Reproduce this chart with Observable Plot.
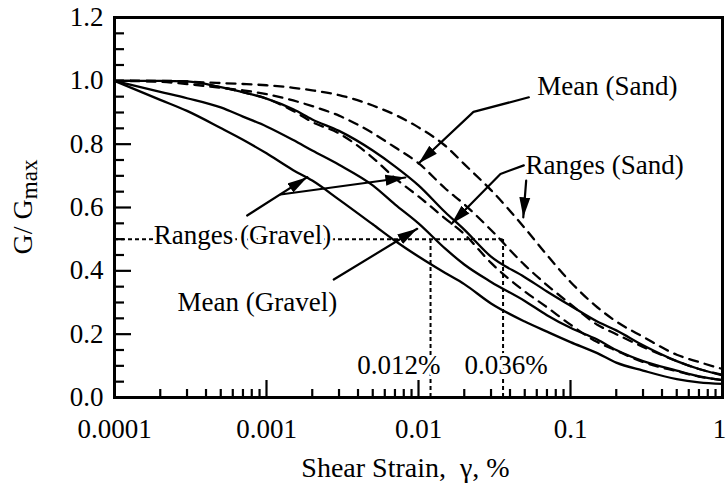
<!DOCTYPE html>
<html><head><meta charset="utf-8">
<script src="https://cdn.jsdelivr.net/npm/d3@7"></script>
<script src="https://cdn.jsdelivr.net/npm/@observablehq/plot@0.6"></script>
<style>html,body{margin:0;padding:0;background:#fff;overflow:hidden}</style>
</head><body><div id="chart"></div>
<script>
// ---- data ----
const strain = [0.0001, 0.0002, 0.0003, 0.0005, 0.0007, 0.001, 0.0015, 0.002, 0.003, 0.005, 0.007, 0.01, 0.015, 0.02, 0.03, 0.05, 0.07, 0.1, 0.15, 0.2, 0.3, 0.5, 0.7, 1];
const gravelLower = [1.0, 0.94, 0.905, 0.851, 0.814, 0.771, 0.718, 0.685, 0.625, 0.547, 0.495, 0.445, 0.393, 0.358, 0.297, 0.24, 0.208, 0.175, 0.14, 0.11, 0.085, 0.058, 0.048, 0.043];
const gravelMean  = [1.0, 0.965, 0.945, 0.916, 0.887, 0.856, 0.813, 0.78, 0.735, 0.67, 0.61, 0.55, 0.47, 0.42, 0.365, 0.305, 0.26, 0.22, 0.183, 0.15, 0.115, 0.085, 0.067, 0.055];
const gravelUpper = [1.0, 1.0, 0.998, 0.98, 0.964, 0.944, 0.91, 0.878, 0.842, 0.78, 0.73, 0.67, 0.585, 0.53, 0.445, 0.38, 0.335, 0.29, 0.24, 0.212, 0.165, 0.115, 0.09, 0.07];
const sandLower   = [1.0, 1.0, 0.998, 0.98, 0.964, 0.944, 0.905, 0.87, 0.834, 0.757, 0.693, 0.635, 0.565, 0.516, 0.425, 0.335, 0.285, 0.23, 0.175, 0.148, 0.112, 0.083, 0.066, 0.055];
const sandMean    = [1.0, 0.997, 0.99, 0.978, 0.97, 0.958, 0.938, 0.92, 0.89, 0.835, 0.79, 0.74, 0.66, 0.61, 0.529, 0.418, 0.355, 0.295, 0.23, 0.2, 0.16, 0.115, 0.09, 0.072];
const sandUpper   = [1.0, 0.999, 0.997, 0.993, 0.99, 0.986, 0.978, 0.97, 0.955, 0.922, 0.893, 0.853, 0.795, 0.737, 0.655, 0.535, 0.45, 0.365, 0.285, 0.24, 0.192, 0.135, 0.112, 0.09];

const xMajor = [0.0001, 0.001, 0.01, 0.1, 1];
const xTickLabels = ["0.0001", "0.001", "0.01", "0.1", "1"];
const yMajor = [0, 0.2, 0.4, 0.6, 0.8, 1.0, 1.2];
const yTickLabels = ["0.0", "0.2", "0.4", "0.6", "0.8", "1.0", "1.2"];
const yMinor = [0.05, 0.1, 0.15, 0.25, 0.3, 0.35, 0.45, 0.5, 0.55, 0.65, 0.7, 0.75, 0.85, 0.9, 0.95, 1.05, 1.1, 1.15];
const xMinor = [];
for (const d of [0.0001, 0.001, 0.01, 0.1]) for (let k = 2; k <= 9; k++) xMinor.push(+(d * k).toPrecision(3));

const refLevel = [0.5];
const refStrains = [0.012, 0.036];
const refLabels = ["0.012%", "0.036%"];
const refLabelX = [0.01396, 0.0201];
const refLabelY = [0.103, 0.103];

const annoLabels = ["Mean (Sand)", "Ranges (Sand)", "Ranges (Gravel)", "Mean (Gravel)"];
const annoX = [0.0604, 0.0506, 0.000181, 0.00026];
const annoY = [0.981, 0.7345, 0.5125, 0.302];

const arrows = [
  {id: "meanSand",    x: [0.0532, 0.0230, 0.0100],   y: [0.948, 0.902, 0.739]},
  {id: "rangeSandA",  x: [0.0493, 0.0346, 0.01648],  y: [0.733, 0.706, 0.5485]},
  {id: "rangeSandB",  x: [0.0511, 0.0489],           y: [0.685, 0.569]},
  {id: "rangeGravA",  x: [0.000746, 0.001854],       y: [0.5747, 0.6957]},
  {id: "rangeGravB",  x: [0.001236, 0.0082],         y: [0.641, 0.6947]},
  {id: "meanGravel",  x: [0.00277, 0.0098],          y: [0.3726, 0.5327]}
];

const xLabel = "Shear Strain,\u00a0 \u03b3, %";
const yLabelMain = "G/ G";
const yLabelSub = "max";

// ---- build tables ----
const series = (vals) => strain.map((s, i) => ({strain: s, g: vals[i]}));
const arrowRows = arrows.flatMap(a => a.x.map((x, i) => ({id: a.id, x, y: a.y[i]})));
const annoRows = annoLabels.map((t, i) => ({t, x: annoX[i], y: annoY[i]}));
const refRows = refLabels.map((t, i) => ({t, x: refLabelX[i], y: refLabelY[i]}));

const FONT = "Liberation Serif";

function arrowHead(color, context) {
  const ns = "http://www.w3.org/2000/svg";
  const doc = (context && context.document) || document;
  const m = doc.createElementNS(ns, "marker");
  m.setAttribute("viewBox", "-20 -6 20 12");
  m.setAttribute("markerWidth", 20);
  m.setAttribute("markerHeight", 12);
  m.setAttribute("markerUnits", "userSpaceOnUse");
  m.setAttribute("refX", 0);
  m.setAttribute("refY", 0);
  m.setAttribute("orient", "auto");
  const p = doc.createElementNS(ns, "path");
  p.setAttribute("d", "M0,0L-20,-5.5L-20,5.5Z");
  p.setAttribute("fill", "black");
  p.setAttribute("stroke", "none");
  m.appendChild(p);
  return m;
}

const LW = 2.3;
const lineOpts = (dash) => ({x: "strain", y: "g", curve: "monotone-x", stroke: "black", strokeWidth: LW, strokeDasharray: dash});
const halo = {fill: "black", stroke: "white", strokeWidth: 6, paintOrder: "stroke", fontSize: 27};

const chart = Plot.plot({
  width: 727,
  height: 497,
  marginLeft: 114,
  marginRight: 5,
  marginTop: 17,
  marginBottom: 100,
  style: {fontFamily: FONT, fontSize: "27px", background: "white", color: "black"},
  x: {type: "log", domain: [0.0001, 1], axis: null},
  y: {domain: [0, 1.2], axis: null},
  marks: [
    // reference dotted lines
    Plot.ruleY(refLevel, {y: d => d, x1: 0.0001, x2: refStrains[1], stroke: "black", strokeWidth: 2, strokeDasharray: "4,3"}),
    Plot.ruleX(refStrains, {x: d => d, y1: 0, y2: refLevel[0], stroke: "black", strokeWidth: 2, strokeDasharray: "4,3"}),
    // curves
    Plot.line(series(gravelLower), lineOpts(null)),
    Plot.line(series(gravelMean), lineOpts(null)),
    Plot.line(series(gravelUpper), lineOpts(null)),
    Plot.line(series(sandLower), lineOpts("9,7")),
    Plot.line(series(sandMean), lineOpts("9,7")),
    Plot.line(series(sandUpper), lineOpts("9,7")),
    // arrows
    Plot.line(arrowRows, {x: "x", y: "y", z: "id", stroke: "black", strokeWidth: 2.2, markerEnd: arrowHead}),
    // annotations
    Plot.text(annoRows, {x: "x", y: "y", text: "t", textAnchor: "start", ...halo}),
    Plot.text(refRows.slice(0, 1), {x: "x", y: "y", text: "t", textAnchor: "end", ...halo}),
    Plot.text(refRows.slice(1), {x: "x", y: "y", text: "t", textAnchor: "start", ...halo}),
    // inside ticks
    Plot.ruleX(xMajor, {x: d => d, insetTop: 363, stroke: "black", strokeWidth: 2.2}),
    Plot.ruleX(xMinor, {x: d => d, insetTop: 372, stroke: "black", strokeWidth: 2.2}),
    Plot.ruleY(yMajor, {y: d => d, insetRight: 591, stroke: "black", strokeWidth: 2.2}),
    Plot.ruleY(yMinor, {y: d => d, insetRight: 598, stroke: "black", strokeWidth: 2.2}),
    Plot.frame({stroke: "black", strokeWidth: 3}),
    // tick labels
    Plot.axisX(xMajor.slice(0, 4), {anchor: "bottom", tickSize: 0, tickPadding: 21, tickFormat: d => xTickLabels[xMajor.indexOf(d)], label: null, fontSize: 27}),
    Plot.axisX(xMajor.slice(4), {anchor: "bottom", tickSize: 0, tickPadding: 21, dx: -3, tickFormat: d => xTickLabels[xMajor.indexOf(d)], label: null, fontSize: 27}),
    Plot.axisY(yMajor, {anchor: "left", tickSize: 0, tickPadding: 11, tickFormat: d => yTickLabels[yMajor.indexOf(d)], label: null, fontSize: 27}),
    // x axis title
    Plot.text([xLabel], {frameAnchor: "bottom", dx: -13, dy: 79, fontSize: 28, fill: "black"})
  ]
});
document.getElementById("chart").appendChild(chart);

const yl = d3.select(chart).append("text")
  .attr("transform", "translate(32,207) rotate(-90)")
  .attr("text-anchor", "middle")
  .attr("font-family", FONT)
  .attr("font-size", 28)
  .attr("fill", "black");
yl.append("tspan").text(yLabelMain);
yl.append("tspan").attr("font-size", 23).attr("dy", 5).text(yLabelSub);
</script>
</body></html>
